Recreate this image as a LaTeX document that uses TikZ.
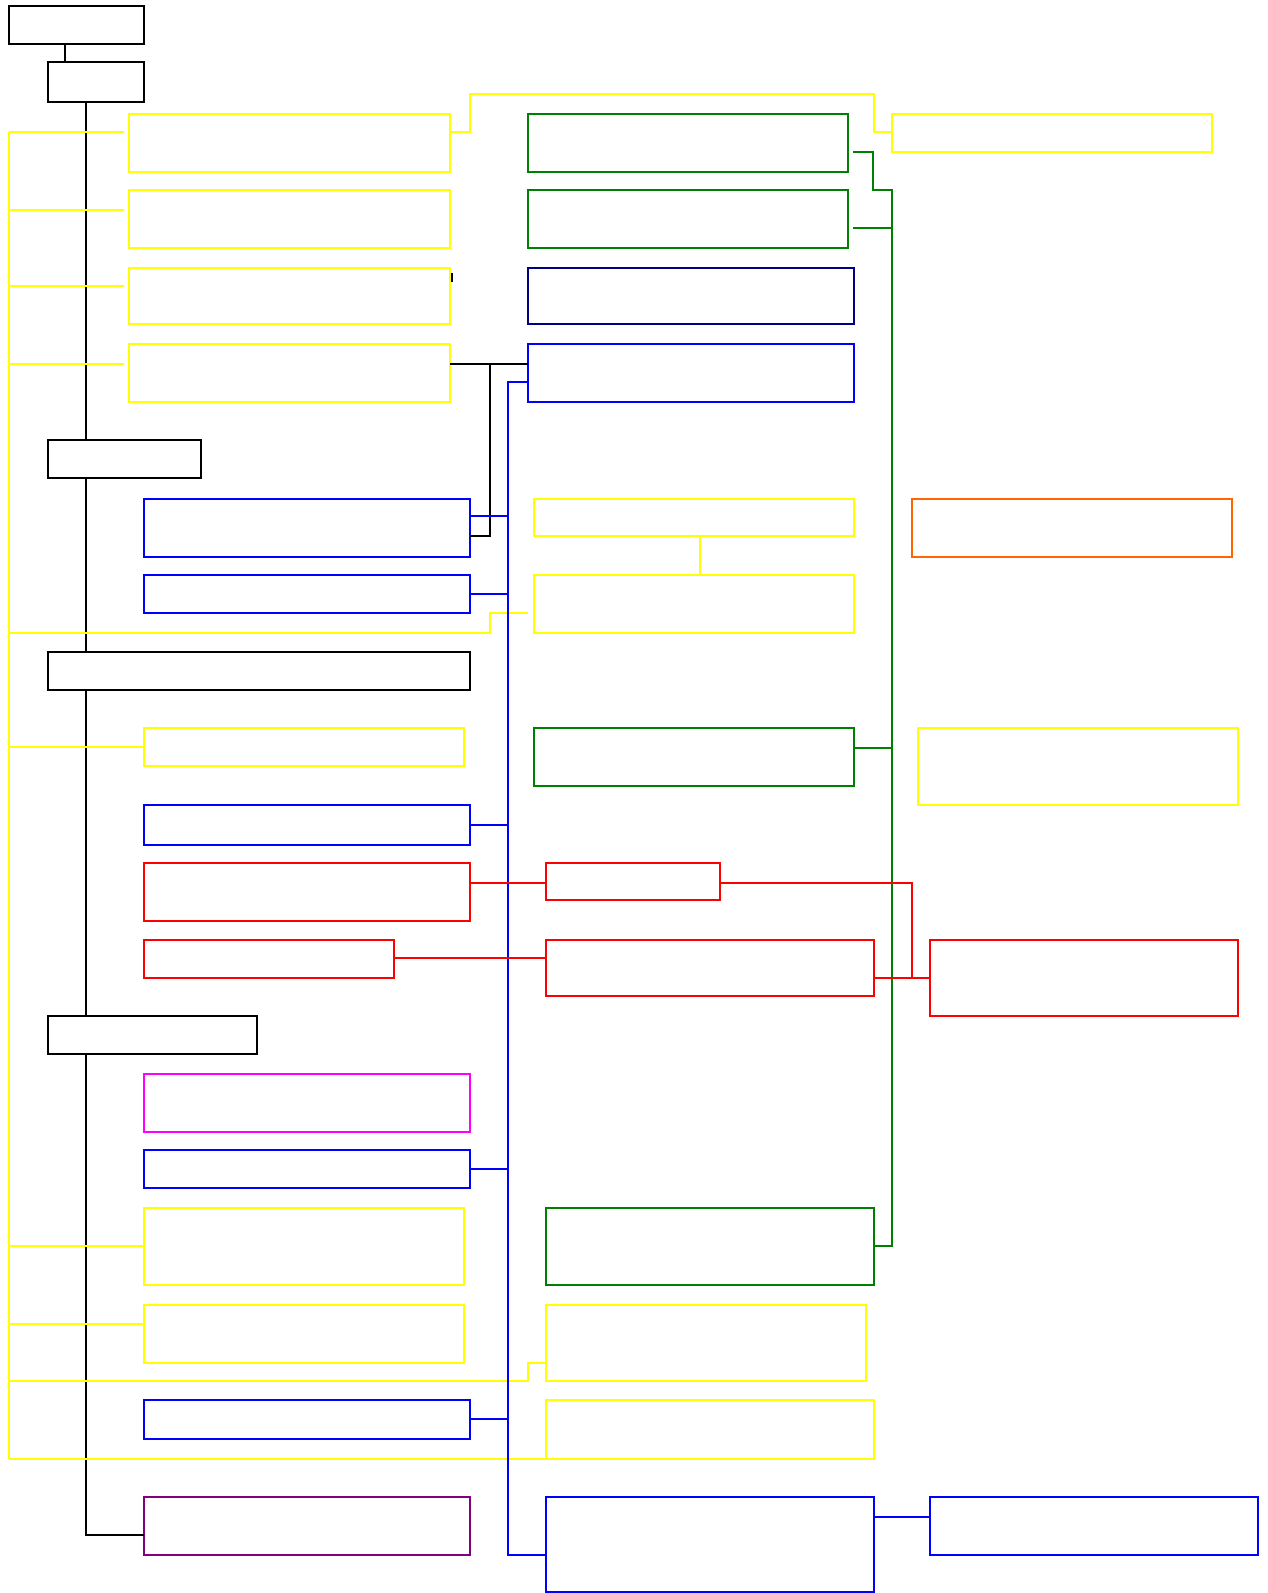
\documentclass[tikz,border=0pt]{standalone}
\usetikzlibrary{fit,calc}
\definecolor{cyel}{RGB}{255,255,0}
\definecolor{cgreen}{RGB}{0,128,0}
\definecolor{cnavy}{RGB}{0,0,128}
\definecolor{cblue}{RGB}{0,0,255}
\definecolor{cred}{RGB}{255,0,0}
\definecolor{corange}{RGB}{255,102,0}
\definecolor{cmag}{RGB}{255,0,255}
\definecolor{cpurp}{RGB}{128,0,128}
\tikzset{
  boxstyle/.style={inner sep=0pt, outer sep=0pt, line width=2pt},
  conn/.style={line width=2pt},
}
\newcommand\mybox[6]{\node[boxstyle, draw=#2, fit={(#3,#4) (#5,#6)}] (#1) {};}
\begin{document}
\begin{tikzpicture}[x=1pt,y=-1pt]
\useasboundingbox (0,0) rectangle (1268,1593);
% boxes
\mybox{A}{black}{9}{6}{143.5}{44}
\mybox{B}{black}{47.5}{62}{143.5}{102}
\mybox{C}{black}{47.5}{440}{201}{477.5}
\mybox{D}{black}{47.5}{652}{469.5}{690}
\mybox{E}{black}{47.5}{1016}{257}{1054}
\mybox{Y1}{cyel}{129}{114}{450}{172}
\mybox{Y2}{cyel}{129}{190}{450}{248}
\mybox{Y3}{cyel}{129}{268}{450}{324}
\mybox{Y4}{cyel}{129}{344}{450}{402}
\mybox{YR}{cyel}{891.5}{114}{1212}{152}
\mybox{G1}{cgreen}{527.5}{114}{848}{172}
\mybox{G2}{cgreen}{527.5}{190}{848}{248}
\mybox{N1}{cnavy}{527.5}{268}{853.5}{324}
\mybox{B1}{cblue}{527.5}{344}{853.5}{402}
\mybox{B2}{cblue}{143.5}{498.5}{469.5}{556.5}
\mybox{B3}{cblue}{143.5}{574.5}{469.5}{612.5}
\mybox{Y5}{cyel}{533.5}{498.5}{853.5}{536}
\mybox{Y6}{cyel}{533.5}{574.5}{853.5}{632.5}
\mybox{O1}{corange}{911.5}{498.5}{1231.5}{556.5}
\mybox{Y7}{cyel}{143.5}{728}{463.5}{766}
\mybox{G3}{cgreen}{533.5}{728}{853.5}{786}
\mybox{Y8}{cyel}{917.5}{728}{1237.5}{804.5}
\mybox{B4}{cblue}{143.5}{804.5}{469.5}{844.5}
\mybox{R1}{cred}{143.5}{862.5}{469.5}{920.5}
\mybox{R2}{cred}{545.5}{862.5}{719.5}{900}
\mybox{R3}{cred}{143.5}{940}{393.5}{978}
\mybox{R4}{cred}{545.5}{940}{873.5}{996}
\mybox{R5}{cred}{929.5}{940}{1237.5}{1016}
\mybox{M1}{cmag}{143.5}{1074}{469.5}{1132}
\mybox{B5}{cblue}{143.5}{1150}{469.5}{1188}
\mybox{Y9}{cyel}{143.5}{1208}{463.5}{1284.5}
\mybox{G4}{cgreen}{545.5}{1208}{873.5}{1284.5}
\mybox{Y10}{cyel}{143.5}{1304.5}{463.5}{1362.5}
\mybox{Y11}{cyel}{545.5}{1304.5}{865.5}{1380.5}
\mybox{B6}{cblue}{143.5}{1400}{469.5}{1438.5}
\mybox{Y12}{cyel}{545.5}{1400}{873.5}{1458.5}
\mybox{P1}{cpurp}{143.5}{1496.5}{469.5}{1554.5}
\mybox{B7}{cblue}{545.5}{1496.5}{873.5}{1591.5}
\mybox{B8}{cblue}{929.5}{1496.5}{1258}{1554.5}
% bus coordinates
\coordinate (ybtop) at (9,132);
\coordinate (ybot) at (9,1458.5);
\coordinate (gtop) at (891.5,190);
\coordinate (gbot) at (891.5,1246.25);
% black trunk
\draw[conn,black] ($(A.south west)+(56,0)$) -- ($(B.north west)+(17.5,0)$);
\draw[conn,black] ($(B.south west)+(38,0)$) -- ($(C.north west)+(38,0)$);
\draw[conn,black] ($(C.south west)+(38,0)$) -- ($(D.north west)+(38,0)$);
\draw[conn,black] ($(D.south west)+(38,0)$) -- ($(E.north west)+(38,0)$);
\draw[conn,black] ($(E.south west)+(38,0)$) |- ($(P1.north west)+(0,38)$);
% black Y4 - B1 and to B2
\draw[conn,black] ($(Y4.north east)+(0,20)$) -- ($(B1.north west)+(0,20)$);
\draw[conn,black] ($(Y4.north east)+(39.5,20)$) |- ($(B2.north east)+(0,37.5)$);
\draw[line width=1.6pt,black] ($(Y3.north east)+(1.7,5)$) -- ($(Y3.north east)+(1.7,14)$);
% yellow bus
\draw[conn,cyel] (ybtop) -- (ybot);
\draw[conn,cyel] ($(Y1.north west)+(-5,18)$) -- (ybot |- {$(Y1.north west)+(-5,18)$});
\draw[conn,cyel] ($(Y2.north west)+(-5,20)$) -- (ybot |- {$(Y2.north west)+(-5,20)$});
\draw[conn,cyel] ($(Y3.north west)+(-5,18)$) -- (ybot |- {$(Y3.north west)+(-5,18)$});
\draw[conn,cyel] ($(Y4.north west)+(-5,20)$) -- (ybot |- {$(Y4.north west)+(-5,20)$});
\draw[conn,cyel] ($(Y6.north west)+(-6,38)$) -- ++(-38,0) -- ++(0,20) -- (ybot |- Y6.south);
\draw[conn,cyel] (Y7.west) -- (ybot |- Y7.west);
\draw[conn,cyel] (Y9.west) -- (ybot |- Y9.west);
\draw[conn,cyel] ($(Y10.north west)+(0,19.5)$) -- (ybot |- {$(Y10.north west)+(0,19.5)$});
\draw[conn,cyel] ($(Y11.north west)+(0,58)$) -- ++(-18,0) |- (ybot |- Y11.south);
\draw[conn,cyel] (ybot) -- (Y12.south west);
\draw[conn,cyel] ($(Y1.north east)+(0,18)$) -- ++(19.5,0) -- ++(0,-38) -| ($(YR.north west)+(-18,18)$) -- ($(YR.north west)+(0,18)$);
\draw[conn,cyel] ($(Y5.south)+(6,0)$) -- ($(Y6.north)+(6,0)$);
% green
\draw[conn,cgreen] ($(G1.north east)+(5,38)$) -- ++(20,0) |- (gtop) -- (gbot) -- (G4.east);
\draw[conn,cgreen] ($(G2.north east)+(5,38)$) -- ++(38.5,0);
\draw[conn,cgreen] ($(G3.north east)+(0,20)$) -- ++(38,0);
% blue
\draw[conn,cblue] ($(B1.north west)+(0,38)$) -- ++(-20,0) |- ($(B7.north west)+(0,58)$);
\draw[conn,cblue] ($(B2.north east)+(0,17.5)$) -- ++(38,0);
\draw[conn,cblue] (B3.east) -- ++(38,0);
\draw[conn,cblue] (B4.east) -- ++(38,0);
\draw[conn,cblue] (B5.east) -- ++(38,0);
\draw[conn,cblue] (B6.east) -- ++(38,0);
\draw[conn,cblue] ($(B7.north east)+(0,20)$) -- ($(B8.north west)+(0,20)$);
% red
\draw[conn,cred] ($(R1.north east)+(0,20)$) -- ($(R2.north west)+(0,20)$);
\draw[conn,cred] ($(R2.north east)+(0,20)$) -- ++(192,0) |- ($(R5.north west)+(0,38)$);
\draw[conn,cred] ($(R3.north east)+(0,18)$) -- ($(R4.north west)+(0,18)$);
\draw[conn,cred] ($(R4.north east)+(0,38)$) -- ($(R5.north west)+(0,38)$);
\end{tikzpicture}
\end{document}
